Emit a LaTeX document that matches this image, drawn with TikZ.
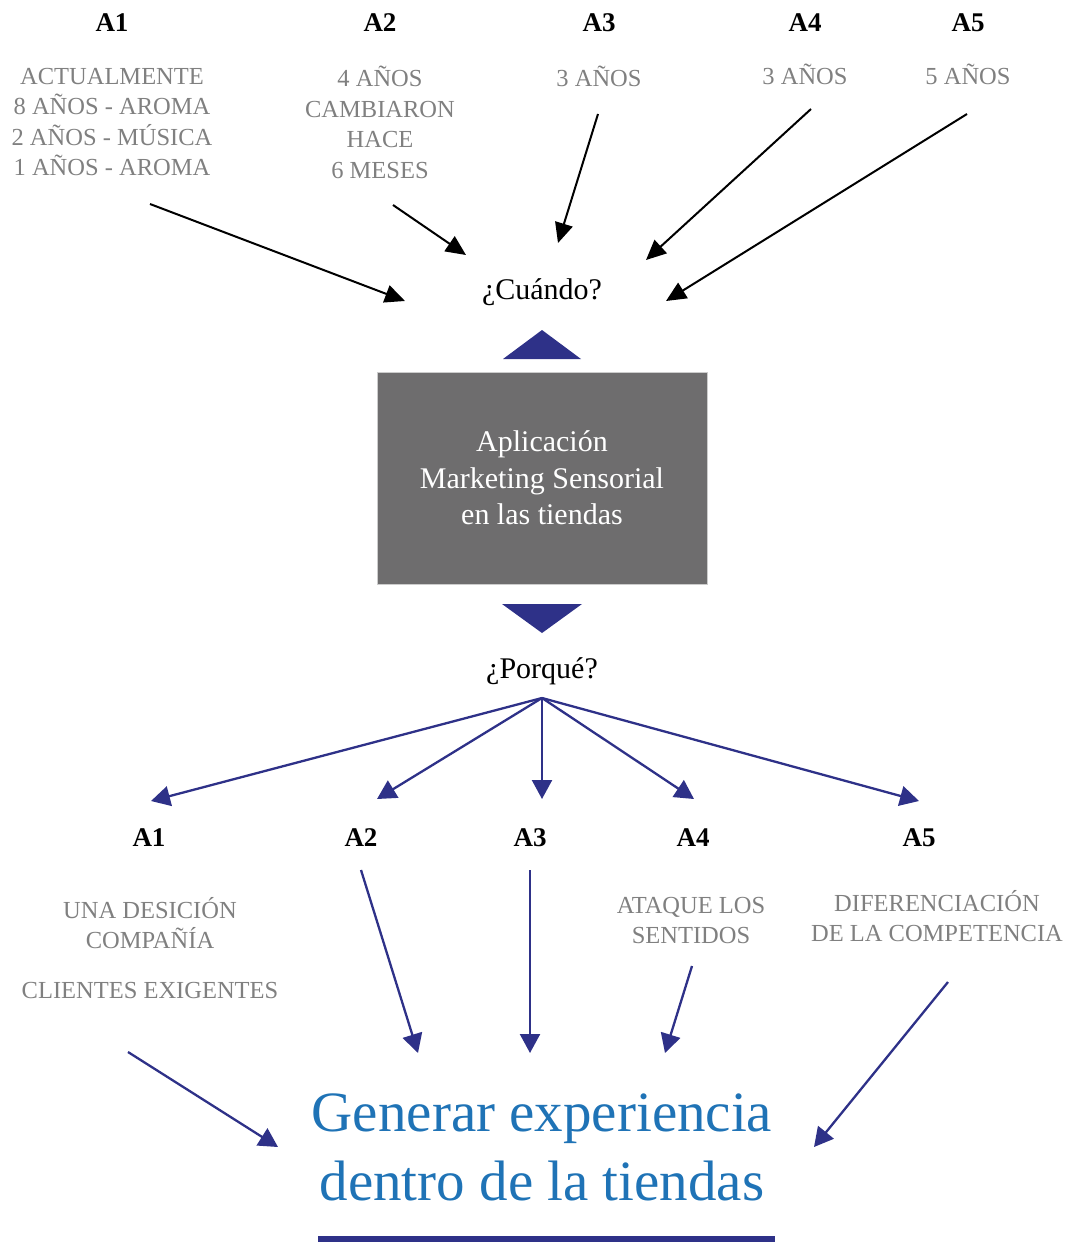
\documentclass[tikz,border=0pt]{standalone}
\usepackage{fontspec}
\setmainfont{Liberation Serif}
\usetikzlibrary{arrows.meta}
\definecolor{navy}{HTML}{2E3188}
\definecolor{graytxt}{HTML}{808080}
\definecolor{boxgray}{HTML}{6E6D6E}
\definecolor{bluetxt}{HTML}{1F73B6}
\begin{document}
\begin{tikzpicture}[x=1pt,y=-1pt,
 lab/.style={font=\fontsize{27}{32}\selectfont\bfseries, anchor=base, inner sep=0pt},
 gtxt/.style={font=\fontsize{24.5}{30.5}\selectfont, text=graytxt, anchor=base, align=center, inner sep=0pt},
 quest/.style={font=\fontsize{30}{35}\selectfont, anchor=base, inner sep=0pt},
 blk/.style={-{Triangle[length=20pt,width=18pt]}, line width=2pt, black},
 blu/.style={-{Triangle[length=19pt,width=20pt]}, line width=2.3pt, navy},
 appbox/.style={fill=boxgray, draw=gray!40, line width=0.8pt, text=white, minimum width=330pt, minimum height=212pt, align=center, font=\fontsize{30}{36.5}\selectfont, inner sep=0pt},
]
\useasboundingbox (0,0) rectangle (1073,1242);
% top labels
\node[lab] (ta1) at (112,31) {A1};
\node[lab] (ta2) at (380,31) {A2};
\node[lab] (ta3) at (599,31) {A3};
\node[lab] (ta4) at (805,31) {A4};
\node[lab] (ta5) at (968,31) {A5};
% multi-line nodes: base = baseline of last line
\node[gtxt] (tt1) at (112,175.5) {ACTUALMENTE\\8 AÑOS - AROMA\\2 AÑOS - MÚSICA\\1 AÑOS - AROMA};
\node[gtxt] (tt2) at (380,178) {4 AÑOS\\CAMBIARON\\HACE\\6 MESES};
\node[gtxt] (tt3) at (599,86) {3 AÑOS};
\node[gtxt] (tt4) at (805,84) {3 AÑOS};
\node[gtxt] (tt5) at (968,84) {5 AÑOS};
\node[quest] (cuando) at (542,299) {¿Cuándo?};
% top arrows
\coordinate (s1) at (150,204); \coordinate (e1) at (405,301);
\coordinate (s2) at (393,205); \coordinate (e2) at (466,255);
\coordinate (s3) at (598,114); \coordinate (e3) at (558,243);
\coordinate (s4) at (811,109); \coordinate (e4) at (646,260);
\coordinate (s5) at (967,114); \coordinate (e5) at (666,301);
\foreach \i in {1,...,5} \draw[blk] (s\i) -- (e\i);
% triangles and box
\fill[navy] (503,359) -- (542,330) -- (581,359) -- cycle;
\node[appbox] (app) at (542,478) {Aplicación\\Marketing Sensorial\\en las tiendas};
\fill[navy] (502,604) -- (582,604) -- (542,633) -- cycle;
\node[quest] (porque) at (542,678) {¿Porqué?};
% fan
\coordinate (fan) at (542,698);
\coordinate (f1) at (151,801);
\coordinate (f2) at (377,799);
\coordinate (f3) at (542,799);
\coordinate (f4) at (694,799);
\coordinate (f5) at (919,801);
\foreach \i in {1,...,5} \draw[blu] (fan) -- (f\i);
% bottom labels
\node[lab] (ba1) at (149,846) {A1};
\node[lab] (ba2) at (361,846) {A2};
\node[lab] (ba3) at (530,846) {A3};
\node[lab] (ba4) at (693,846) {A4};
\node[lab] (ba5) at (919,846) {A5};
\node[gtxt] (bt1) at (150,948.5) {UNA DESICIÓN\\COMPAÑÍA};
\node[gtxt] (bt1b) at (150,998) {CLIENTES EXIGENTES};
\node[gtxt] (bt4) at (691,943.5) {ATAQUE LOS\\SENTIDOS};
\node[gtxt] (bt5) at (937,941.5) {DIFERENCIACIÓN\\DE LA COMPETENCIA};
% bottom arrows
\coordinate (g1) at (128,1052); \coordinate (h1) at (278,1147);
\coordinate (g2) at (361,870);  \coordinate (h2) at (418,1053);
\coordinate (g3) at (530,870);  \coordinate (h3) at (530,1053);
\coordinate (g4) at (692,966);  \coordinate (h4) at (665,1053);
\coordinate (g5) at (948,982);  \coordinate (h5) at (814,1147);
\foreach \i in {1,...,5} \draw[blu] (g\i) -- (h\i);
% goal
\node[font=\fontsize{57}{69}\selectfont, text=bluetxt, align=center, anchor=base, inner sep=0pt] (goal) at (542,1200) {Generar experiencia\\dentro de la tiendas};
\fill[navy] (318,1236) rectangle (775,1244);
\end{tikzpicture}
\end{document}
